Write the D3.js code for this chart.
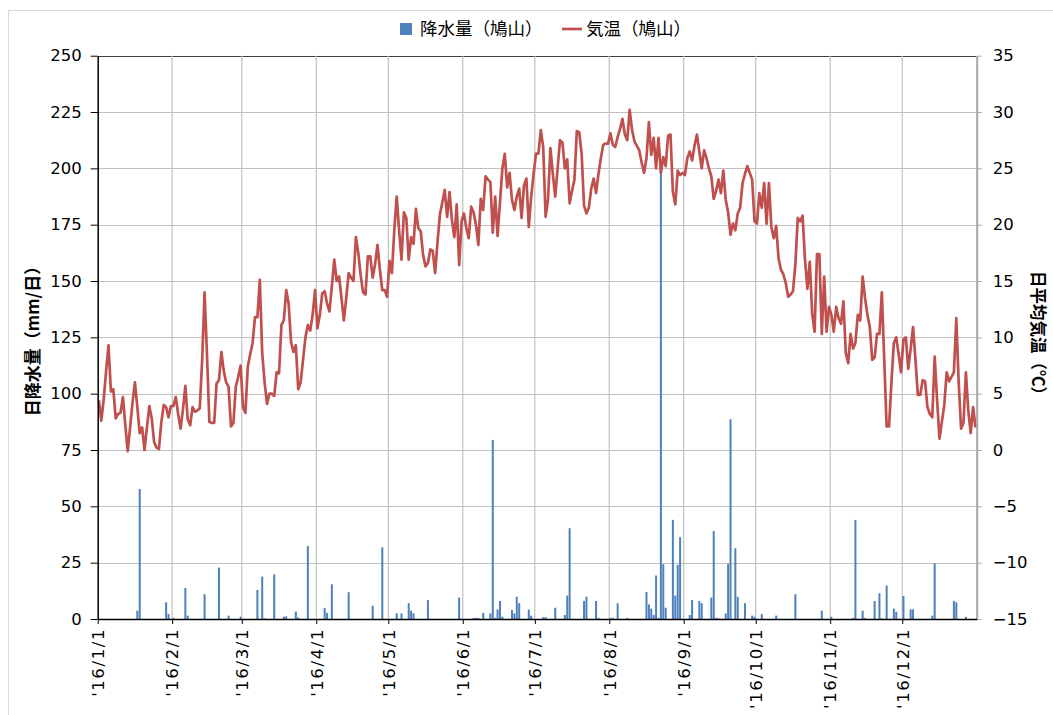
<!DOCTYPE html>
<html>
<head>
<meta charset="utf-8">
<script src="https://cdn.jsdelivr.net/npm/d3@7"></script>
<style>
  body { margin: 0; background: #fff; }
  svg { display: block; }
  .tick text { font-family: "DejaVu Sans", sans-serif; font-size: 16.5px; fill: #000; }
</style>
</head>
<body>
<svg width="1053" height="715"></svg>
<script>
// daily mean temperature (°C), one array per month
const tempJan = [4.4,2.6,4.5,7.0,9.3,5.2,5.4,2.8,3.2,3.3,4.7,2.2,-0.1,2.0,4.2,6.0,3.8,1.5,2.0,0.0,2.0,3.9,2.8,0.7,0.2,0.1,2.5,4.0,3.8,2.9,3.9];
const tempFeb = [3.9,4.7,3.2,1.9,3.6,5.7,2.7,2.2,3.8,3.4,3.5,3.7,8.0,14.0,8.5,2.5,2.4,2.4,5.9,6.2,8.7,7.0,6.0,5.6,2.1,2.4,5.6,6.5,7.5];
const tempMar = [3.8,3.3,7.4,8.5,9.5,11.8,11.8,15.1,8.6,6.0,4.1,5.0,5.0,4.8,6.9,6.8,11.1,11.5,14.2,13.0,9.6,8.7,9.3,5.4,6.0,8.0,10.0,11.1,10.6,12.0,14.2];
const tempApr = [10.8,12.0,13.9,14.1,13.0,12.3,14.5,16.9,15.0,15.4,13.5,11.5,13.5,15.7,15.3,15.0,18.9,17.5,15.5,14.0,13.8,17.2,17.2,15.3,16.5,18.2,16.0,14.2,14.2,13.6];
const tempMay = [16.8,15.7,19.5,22.5,19.5,16.9,21.1,20.6,16.9,18.9,18.3,21.4,19.7,19.4,17.3,16.3,16.6,17.8,17.7,15.7,18.5,20.9,22.0,23.1,20.7,22.9,20.4,18.9,21.8,16.4,20.3];
const tempJun = [21.0,19.7,18.8,21.6,21.1,20.0,18.2,22.3,21.3,24.3,24.0,23.8,19.3,22.5,19.0,22.0,25.0,26.3,23.3,24.6,22.2,21.3,22.5,23.2,20.6,23.5,24.1,19.8,22.5,24.5];
const tempJul = [26.3,26.3,28.4,26.9,20.7,22.2,26.8,24.5,22.5,25.0,27.5,27.3,25.0,25.8,21.9,23.0,24.0,28.3,28.2,26.3,21.7,21.0,21.5,23.2,24.1,22.8,24.5,25.9,27.1,27.2,27.2];
const tempAug = [28.1,27.1,26.9,27.8,28.5,29.4,28.0,27.5,30.2,28.4,27.4,27.0,26.6,25.5,24.6,25.9,29.1,26.2,27.7,25.0,27.7,24.6,26.0,25.2,27.9,28.0,22.9,21.8,24.8,24.4,24.6];
const tempSep = [24.4,25.9,26.5,25.7,27.0,28.0,26.5,25.0,26.6,25.9,25.0,24.3,22.3,23.0,24.0,22.8,24.8,22.2,21.1,19.1,20.1,19.5,21.0,21.5,23.7,24.5,25.2,24.6,24.0,20.3];
const tempOct = [20.1,22.8,21.5,23.7,20.1,23.7,19.8,18.8,19.9,17.0,16.0,15.6,14.8,13.6,13.8,14.1,16.5,20.6,20.3,20.8,16.9,14.3,16.7,12.1,10.5,17.4,17.4,10.3,15.4,10.5,12.7];
const tempNov = [12.0,10.5,12.7,11.7,11.2,13.2,8.6,7.7,10.3,9.0,9.5,12.0,11.5,15.4,13.5,12.0,10.9,8.0,8.2,10.3,10.3,14.0,8.0,2.1,2.1,6.0,9.5,10.0,8.5,6.9];
const tempDec = [9.8,10.0,7.2,9.0,10.9,8.0,4.9,4.9,6.2,6.1,3.8,3.2,2.9,8.3,4.5,1.0,2.5,4.0,6.9,6.1,6.5,6.9,11.7,6.0,1.9,2.4,6.9,3.5,1.5,3.8,2.0];

// daily precipitation (mm), [day of month, mm] for days with rain
const rainJan = [[17,3.7],[18,57.7],[29,7.4],[30,2.2]];
const rainFeb = [[1,0.5],[6,13.8],[7,1.5],[14,11.0],[20,22.8],[24,1.5],[29,1.0]];
const rainMar = [[7,12.9],[9,18.8],[10,0.3],[14,19.8],[18,1.0],[19,1.2],[23,3.3],[24,0.7],[28,32.4]];
const rainApr = [[4,4.9],[5,2.7],[7,15.4],[14,11.9],[24,5.9],[28,31.8]];
const rainMay = [[4,2.5],[6,2.5],[9,7.0],[10,3.7],[11,2.5],[17,8.4],[30,9.5]];
const rainJun = [[5,0.5],[6,0.5],[7,0.5],[9,2.7],[12,2.5],[13,79.5],[14,0.5],[15,4.2],[16,8.0],[17,1.0],[21,4.0],[22,2.5],[23,9.9],[24,7.0],[28,4.2],[29,1.5]];
const rainJul = [[4,0.8],[5,0.8],[9,5.0],[13,1.8],[14,10.4],[15,40.3],[21,8.0],[22,9.9],[26,8.0],[27,0.5]];
const rainAug = [[1,0.5],[2,0.5],[4,7.0],[8,0.5],[16,12.0],[17,6.5],[18,4.6],[19,1.8],[20,19.3],[21,0.5],[22,200.5],[23,24.3],[24,5.0],[27,44.0],[28,10.4],[29,24.0],[30,36.3]];
const rainSep = [[3,1.8],[4,8.4],[7,8.0],[8,7.0],[12,9.5],[13,39.1],[14,0.5],[15,0.3],[18,2.5],[19,24.4],[20,88.7],[22,31.4],[23,9.9],[26,7.0],[29,1.5],[30,1.0]];
const rainOct = [[3,2.2],[9,1.5],[17,11.0],[28,3.7]];
const rainNov = [[1,1.0],[10,0.5],[11,44.0],[14,3.7],[15,0.5],[19,8.0],[21,11.4],[22,0.3],[24,14.8],[27,4.6],[28,3.2]];
const rainDec = [[1,10.2],[4,4.3],[5,4.3],[13,1.5],[14,24.7],[22,8.0],[23,7.4],[27,1.0]];

const monthLabels = ["'16/1/1","'16/2/1","'16/3/1","'16/4/1","'16/5/1","'16/6/1","'16/7/1","'16/8/1","'16/9/1","'16/10/1","'16/11/1","'16/12/1"];
const rainTicks = [0,25,50,75,100,125,150,175,200,225,250];
const tempTicks = [-15,-10,-5,0,5,10,15,20,25,30,35];
const seriesNames = ["降水量（鳩山）", "気温（鳩山）"];
const axisTitles = ["日降水量（mm/日）", "日平均気温（℃）"];

const temps = [tempJan,tempFeb,tempMar,tempApr,tempMay,tempJun,tempJul,tempAug,tempSep,tempOct,tempNov,tempDec];
const rains = [rainJan,rainFeb,rainMar,rainApr,rainMay,rainJun,rainJul,rainAug,rainSep,rainOct,rainNov,rainDec];

const tempData = [];
temps.forEach((arr, m) => arr.forEach((t, i) => tempData.push({ date: new Date(Date.UTC(2016, m, i + 1)), t })));
const rainData = [];
rains.forEach((arr, m) => arr.forEach(([d, v]) => rainData.push({ date: new Date(Date.UTC(2016, m, d)), v })));
const monthStarts = d3.utcMonth.range(new Date(Date.UTC(2016,0,1)), new Date(Date.UTC(2017,0,1)));

const svg = d3.select("svg");
const plot = { left: 97.7, right: 976.7, top: 55.7, bottom: 619 };

const x = d3.scaleUtc()
  .domain([new Date(Date.UTC(2016,0,1)), new Date(Date.UTC(2017,0,1))])
  .range([plot.left, plot.right]);
const yL = d3.scaleLinear().domain([0, 250]).range([plot.bottom, plot.top]);
const yR = d3.scaleLinear().domain([-15, 35]).range([plot.bottom, plot.top]);
const dayW = x(new Date(Date.UTC(2016,0,2))) - x(new Date(Date.UTC(2016,0,1)));
const mid = d => x(d) + dayW / 2;

// chart border
svg.append("rect")
  .attr("x", 8.5).attr("y", 10.5).attr("width", 1060).attr("height", 720)
  .attr("fill", "none").attr("stroke", "#d9d9d9");

// grid
svg.append("g").selectAll("line")
  .data(rainTicks.slice(1))
  .join("line")
  .attr("x1", plot.left).attr("x2", plot.right)
  .attr("y1", d => Math.round(yL(d)) + 0.5).attr("y2", d => Math.round(yL(d)) + 0.5)
  .attr("stroke", d => d === 250 ? "#404040" : "#c0c0c0").attr("stroke-width", 1.2);
svg.append("g").selectAll("line")
  .data(monthStarts.slice(1))
  .join("line")
  .attr("x1", d => x(d)).attr("x2", d => x(d))
  .attr("y1", plot.top).attr("y2", plot.bottom)
  .attr("stroke", "#c0c0c0").attr("stroke-width", 1.2);

// bars
svg.append("g").selectAll("rect")
  .data(rainData)
  .join("rect")
  .attr("x", d => x(d.date) + 0.2)
  .attr("width", dayW - 0.4)
  .attr("y", d => yL(d.v))
  .attr("height", d => yL(0) - yL(d.v))
  .attr("fill", "#4f81bd");

// temperature line
svg.append("path")
  .datum(tempData)
  .attr("fill", "none")
  .attr("stroke", "#c0504d")
  .attr("stroke-width", 2.7)
  .attr("stroke-linejoin", "round")
  .attr("d", d3.line().x(d => mid(d.date)).y(d => yR(d.t)));

// axes
const axL = svg.append("g")
  .attr("transform", `translate(${plot.left},0)`)
  .call(d3.axisLeft(yL).tickValues(rainTicks).tickSize(7).tickPadding(9).tickSizeOuter(0));
axL.select(".domain").attr("stroke", "#000").attr("stroke-width", 1.5);

const axR = svg.append("g")
  .attr("transform", `translate(${plot.right},0)`)
  .call(d3.axisRight(yR).tickValues(tempTicks).tickSize(5).tickPadding(11).tickSizeOuter(0));
axR.select(".domain").attr("stroke", "#a6a6a6").attr("stroke-width", 2);
axR.selectAll(".tick line").attr("stroke", "#a6a6a6");

const axB = svg.append("g")
  .attr("transform", `translate(0,${plot.bottom})`)
  .call(d3.axisBottom(x).tickValues(monthStarts).tickFormat((d, i) => monthLabels[i]).tickSize(5).tickSizeOuter(0));
axB.select(".domain").attr("stroke", "#000").attr("stroke-width", 1.5);
axB.selectAll(".tick text")
  .attr("transform", "rotate(-90)")
  .attr("text-anchor", "end")
  .attr("x", -9).attr("y", 0).attr("dy", "0.35em")
  .style("letter-spacing", "1.6px");

// axis titles
svg.append("text")
  .attr("transform", "translate(33,337) rotate(-90)")
  .attr("text-anchor", "middle").attr("dy", "0.35em")
  .style("font-family", "'Noto Sans CJK JP', sans-serif").style("font-size", "17px").style("font-weight", "bold")
  .text(axisTitles[0]);
svg.append("text")
  .attr("transform", "translate(1038,337) rotate(90)")
  .attr("text-anchor", "middle").attr("dy", "0.35em")
  .style("font-family", "'Noto Sans CJK JP', sans-serif").style("font-size", "16.5px").style("font-weight", "bold")
  .text(axisTitles[1]);

// legend
const lg = svg.append("g").style("font-family", "'Noto Sans CJK JP', sans-serif").style("font-size", "17.5px");
lg.append("rect").attr("x", 400).attr("y", 23).attr("width", 12).attr("height", 12).attr("fill", "#4f81bd");
lg.append("text").attr("x", 420).attr("y", 29).attr("dy", "0.35em").text(seriesNames[0]);
lg.append("line").attr("x1", 562).attr("x2", 582).attr("y1", 29).attr("y2", 29)
  .attr("stroke", "#c0504d").attr("stroke-width", 2.7);
lg.append("text").attr("x", 586).attr("y", 29).attr("dy", "0.35em").text(seriesNames[1]);
</script>
</body>
</html>
